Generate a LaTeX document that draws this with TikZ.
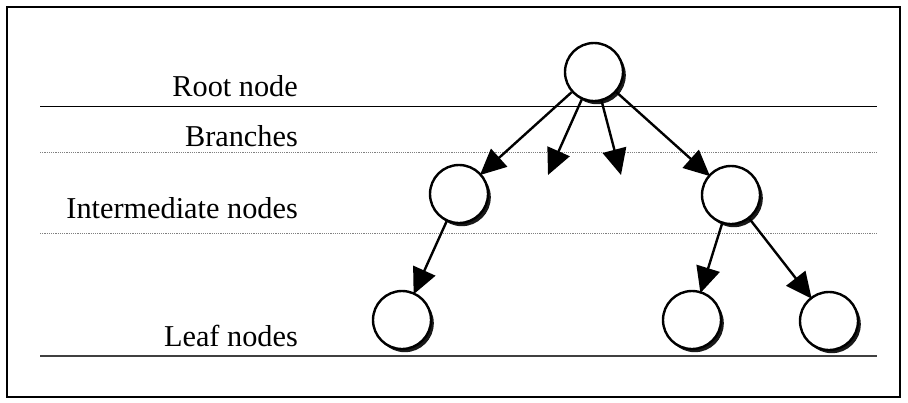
\documentclass[tikz,border=0pt]{standalone}
\usepackage{fontspec}
\setmainfont{Liberation Serif}
\usetikzlibrary{arrows.meta,shadows}
\begin{document}
\begin{tikzpicture}[x=1pt,y=-1pt,
  treenode/.style={circle, draw=black, fill=white, line width=2.4pt,
    minimum size=58pt, inner sep=0pt,
    drop shadow={shadow xshift=2.8pt, shadow yshift=-3.2pt, fill=black, opacity=0.9}},
  branch/.style={line width=2.4pt, shorten >=-2pt, -{Triangle[length=26pt,width=24pt]}},
  levelname/.style={anchor=base east, inner sep=0pt, font=\fontsize{30.3}{36}\selectfont},
  solidrule/.style={line width=1pt},
  dottedrule/.style={line width=0.9pt, gray, dash pattern=on 1.2pt off 1pt}]
  \useasboundingbox (0,0) rectangle (908,402);
  % outer frame
  \draw[line width=1.6pt] (7,7) rectangle (900,397);

  % level separators
  \draw[solidrule] (40,106) -- (877,106);
  \draw[dottedrule] (40,152) -- (877,152);
  \draw[dottedrule] (40,233) -- (877,233);
  \draw[solidrule, line width=1.4pt, black!75] (40,356) -- (877,356);

  % level names
  \node[levelname] (lroot) at (298,96) {Root node};
  \node[levelname] (lbranch) at (298,146) {Branches};
  \node[levelname] (linter) at (298,218) {Intermediate nodes};
  \node[levelname] (lleaf) at (298,346) {Leaf nodes};

  % tree nodes
  \node[treenode] (root)  at (594,72)  {};
  \node[treenode] (intL)  at (459,194) {};
  \node[treenode] (intR)  at (731,195) {};
  \node[treenode] (leafA) at (402,320) {};
  \node[treenode] (leafB) at (692,320) {};
  \node[treenode] (leafC) at (829,321) {};

  % loose branch ends
  \coordinate (endA) at (548,175);
  \coordinate (endB) at (621,175);

  % branches
  \draw[branch] (root) -- (intL);
  \draw[branch, shorten >=0pt] (root) -- (endA);
  \draw[branch, shorten >=0pt] (root) -- (endB);
  \draw[branch] (root) -- (intR);
  \draw[branch] (intL) -- (leafA);
  \draw[branch] (intR) -- (leafB);
  \draw[branch] (intR) -- (leafC);
\end{tikzpicture}
\end{document}
